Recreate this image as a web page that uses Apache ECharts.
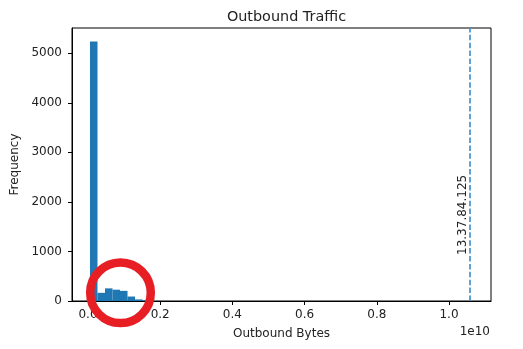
<!DOCTYPE html>
<html>
<head>
<meta charset="utf-8">
<script src="https://cdn.jsdelivr.net/npm/echarts@6/dist/echarts.min.js"></script>
<style>html,body{margin:0;padding:0;background:#fff;}#c{width:523px;height:349px;}</style>
</head>
<body>
<div id="c"></div>
<script>
// Histogram bins (bytes) and frequencies
var binStarts = [5.5e7, 2.63e8, 4.71e8, 6.79e8, 8.87e8, 1.095e9, 1.303e9, 1.511e9, 1.719e9, 1.927e9];
var binEnds   = [2.63e8, 4.71e8, 6.79e8, 8.87e8, 1.095e9, 1.303e9, 1.511e9, 1.719e9, 1.927e9, 2.135e9];
var counts    = [5240, 165, 255, 228, 205, 90, 32, 10, 4, 2];
var xTicks = [0, 2e9, 4e9, 6e9, 8e9, 1e10];
var yTicks = [0, 1000, 2000, 3000, 4000, 5000];
var markerX = 1.058e10;
var markerLabelY = 929;
var markerLabel = '13.37.84.125';

var FONT = 'DejaVu Sans';
var TXT = '#222';
var chart = echarts.init(document.getElementById('c'));
var barData = binStarts.map(function (s, i) { return [s, binEnds[i], counts[i]]; });

chart.setOption({
  animation: false,
  title: {
    text: 'Outbound Traffic', left: 281.5, top: 5, textAlign: 'center',
    textStyle: { fontFamily: FONT, fontSize: 14.4, fontWeight: 'normal', color: TXT }
  },
  grid: { left: 72, right: 32, top: 28, bottom: 48, show: true, borderColor: '#000', borderWidth: 1, backgroundColor: 'transparent' },
  xAxis: {
    type: 'value', min: -0.0443e10, max: 1.1163e10,
    name: 'Outbound Bytes', nameLocation: 'middle', nameGap: 27,
    nameTextStyle: { fontFamily: FONT, fontSize: 12, color: TXT },
    axisLine: { show: true, onZero: false, lineStyle: { color: '#000', width: 1 } },
    axisTick: { show: true, length: 4, lineStyle: { color: '#000', width: 1 }, customValues: xTicks },
    axisLabel: { fontFamily: FONT, fontSize: 12, color: TXT, margin: 8, customValues: xTicks,
      formatter: function (v) { return (v / 1e10).toFixed(1); } },
    splitLine: { show: false }
  },
  yAxis: {
    type: 'value', min: 0, max: 5510,
    name: 'Frequency', nameLocation: 'middle', nameGap: 42,
    nameTextStyle: { fontFamily: FONT, fontSize: 12, color: TXT },
    axisLine: { show: true, onZero: false, lineStyle: { color: '#000', width: 1 } },
    axisTick: { show: true, length: 4, lineStyle: { color: '#000', width: 1 }, customValues: yTicks },
    axisLabel: { fontFamily: FONT, fontSize: 12, color: TXT, margin: 10, customValues: yTicks,
      formatter: function (v) { return String(v); } },
    splitLine: { show: false }
  },
  series: [
    {
      type: 'custom',
      data: barData,
      encode: { x: [0, 1], y: 2 },
      renderItem: function (params, api) {
        var p0 = api.coord([api.value(0), api.value(2)]);
        var p1 = api.coord([api.value(1), 0]);
        return { type: 'rect', shape: { x: p0[0], y: p0[1], width: p1[0] - p0[0], height: p1[1] - p0[1] },
          style: { fill: '#1f77b4' } };
      },
      markLine: {
        silent: true, symbol: 'none', animation: false,
        label: { show: false },
        lineStyle: { color: '#4592cc', type: [5.5, 2.4], width: 1.7 },
        data: [{ xAxis: markerX }]
      }
    },
    {
      type: 'custom',
      data: [[markerX, markerLabelY]],
      encode: { x: 0, y: 1 },
      renderItem: function (params, api) {
        var p = api.coord([api.value(0), api.value(1)]);
        return { type: 'text', x: p[0] - 1.5, y: p[1], rotation: Math.PI / 2,
          style: { text: markerLabel, font: '12px "DejaVu Sans"', fill: TXT, align: 'left', verticalAlign: 'bottom' } };
      }
    }
  ],
  graphic: [
    { type: 'text', right: 33, top: 326, style: { text: '1e10', font: '12px "DejaVu Sans"', fill: TXT } },
    { type: 'circle', z: 100, shape: { cx: 120.5, cy: 292.8, r: 30.3 },
      style: { fill: 'none', stroke: '#e81e25', lineWidth: 8.5 } }
  ]
});
</script>
</body>
</html>
